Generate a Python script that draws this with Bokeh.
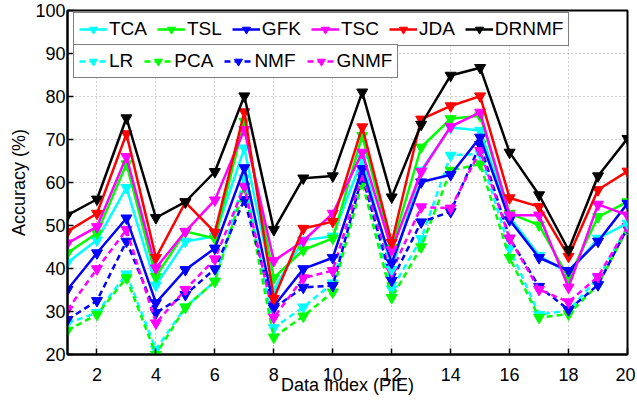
from bokeh.plotting import figure
from bokeh.models import Legend, LegendItem, FixedTicker, Range1d
from bokeh.embed import file_html
from bokeh.resources import INLINE

x = list(range(1, 21))

DRNMF = [52.4, 56.1, 75.0, 51.8, 55.5, 62.5, 80.1, 49.0, 61.0, 61.5, 81.0, 56.6, 73.5, 84.9, 86.7, 67.0, 57.1, 44.3, 61.5, 70.2]
JDA = [48.6, 52.8, 71.3, 42.5, 55.4, 48.4, 76.4, 33.0, 49.3, 50.9, 72.9, 46.0, 74.7, 77.8, 80.1, 56.4, 54.4, 42.8, 58.3, 62.6]
TSC = [45.9, 49.7, 66.0, 40.1, 48.6, 55.9, 72.3, 41.8, 46.4, 52.8, 67.0, 44.3, 62.5, 73.0, 76.3, 52.4, 52.4, 35.6, 54.9, 52.4]
TSL = [43.6, 48.2, 64.3, 38.1, 48.6, 47.0, 74.2, 37.8, 44.3, 47.0, 70.9, 44.8, 68.2, 74.8, 75.5, 52.8, 50.1, 37.8, 52.0, 55.5]
TCA = [41.4, 46.6, 58.8, 36.1, 46.3, 47.5, 68.0, 35.1, 46.6, 47.5, 65.5, 39.8, 62.8, 72.8, 72.1, 52.0, 43.0, 38.9, 47.0, 50.5]
GFK = [35.1, 43.6, 51.7, 32.0, 39.7, 44.7, 63.4, 31.2, 39.9, 42.5, 63.2, 41.3, 60.1, 61.8, 70.5, 51.3, 42.5, 39.5, 46.3, 55.1]
GNMF = [30.4, 39.9, 49.0, 27.3, 35.1, 42.2, 59.1, 28.6, 37.8, 39.5, 62.0, 39.3, 54.3, 54.0, 67.4, 47.0, 35.1, 32.2, 38.1, 49.7]
NMF = [28.1, 32.5, 46.3, 29.7, 33.9, 39.9, 56.0, 30.8, 35.6, 36.0, 61.5, 37.2, 50.8, 53.2, 68.8, 47.0, 35.8, 30.4, 36.2, 49.5]
LR = [27.3, 29.7, 38.7, 21.2, 31.0, 37.0, 61.0, 26.2, 31.0, 36.6, 62.0, 35.2, 46.9, 66.3, 66.7, 44.7, 29.3, 30.2, 37.8, 49.7]
PCA = [25.6, 29.3, 37.8, 20.0, 31.0, 37.0, 59.0, 24.0, 28.9, 34.5, 60.0, 33.2, 45.0, 62.8, 64.3, 42.5, 28.6, 29.4, 36.2, 49.3]

x_ticks = [2, 4, 6, 8, 10, 12, 14, 16, 18, 20]
y_ticks = [20, 30, 40, 50, 60, 70, 80, 90, 100]

solid_series = [("TCA", TCA, "#00ffff"), ("TSL", TSL, "#00ff00"), ("GFK", GFK, "#0000ff"),
                ("TSC", TSC, "#ff00ff"), ("JDA", JDA, "#ff0000"), ("DRNMF", DRNMF, "#000000")]
dashed_series = [("LR", LR, "#00ffff"), ("PCA", PCA, "#00ff00"), ("NMF", NMF, "#0000ff"),
                 ("GNMF", GNMF, "#ff00ff")]

FONT = "Liberation Sans"
FRAME_H = 344

p = figure(frame_width=560, frame_height=FRAME_H, output_backend="svg", toolbar_location=None,
           x_range=Range1d(1, 20), y_range=Range1d(20, 100),
           min_border_left=67, min_border_right=8, min_border_top=10, min_border_bottom=10)
p.background_fill_color = "white"
p.border_fill_color = "white"
p.outline_line_color = "black"
p.outline_line_width = 2

for ax in (p.xaxis[0], p.yaxis[0]):
    ax.major_label_text_font = FONT
    ax.major_label_text_font_size = "18px"
    ax.major_label_text_color = "black"
    ax.axis_label_text_font = FONT
    ax.axis_label_text_font_size = "18px"
    ax.axis_label_text_font_style = "normal"
    ax.axis_label_text_color = "black"
    ax.axis_line_color = "black"
    ax.axis_line_width = 2
    ax.major_tick_in = 6
    ax.major_tick_out = 0
    ax.major_tick_line_width = 1.5
    ax.minor_tick_line_color = None

p.xaxis.ticker = FixedTicker(ticks=x_ticks)
p.yaxis.ticker = FixedTicker(ticks=y_ticks)
p.xaxis.axis_label = "Data Index (PIE)"
p.yaxis.axis_label = "Accuracy (%)"
p.xaxis.major_label_standoff = 13
p.xaxis.axis_label_standoff = -9
p.yaxis.major_label_standoff = 2
p.yaxis.axis_label_standoff = 3

for g in (p.xgrid[0], p.ygrid[0]):
    g.grid_line_color = "#9a9a9a"
    g.grid_line_dash = "1 3"
    g.grid_line_width = 1
p.xgrid.ticker = FixedTicker(ticks=x_ticks)
p.ygrid.ticker = FixedTicker(ticks=y_ticks)

items_solid = []
items_dashed = []
for name, ys, col in dashed_series:
    lr = p.line(x, ys, line_color=col, line_width=2.5, line_dash="6 4")
    sr = p.scatter(x, ys, marker="inverted_triangle", size=11, fill_color=col, line_color=col)
    items_dashed.append(LegendItem(label=name, renderers=[lr, sr]))
for name, ys, col in solid_series:
    lr = p.line(x, ys, line_color=col, line_width=2.5)
    sr = p.scatter(x, ys, marker="inverted_triangle", size=11, fill_color=col, line_color=col)
    items_solid.append(LegendItem(label=name, renderers=[lr, sr]))

def style_legend(lg, spacing):
    lg.orientation = "horizontal"
    lg.label_text_font = FONT
    lg.label_text_font_size = "19px"
    lg.label_text_color = "black"
    lg.glyph_width = 28
    lg.glyph_height = 20
    lg.label_standoff = 2
    lg.spacing = spacing
    lg.padding = 5
    lg.margin = 0
    lg.border_line_color = "black"
    lg.border_line_width = 1.5
    lg.background_fill_color = "white"
    lg.background_fill_alpha = 1.0

leg1 = Legend(items=items_solid, location=(6, FRAME_H - 36))
leg2 = Legend(items=items_dashed, location=(6, FRAME_H - 68))
style_legend(leg1, 10)
style_legend(leg2, 11)
p.add_layout(leg1, "center")
p.add_layout(leg2, "center")

open("out.html", "w").write(file_html(p, INLINE))
